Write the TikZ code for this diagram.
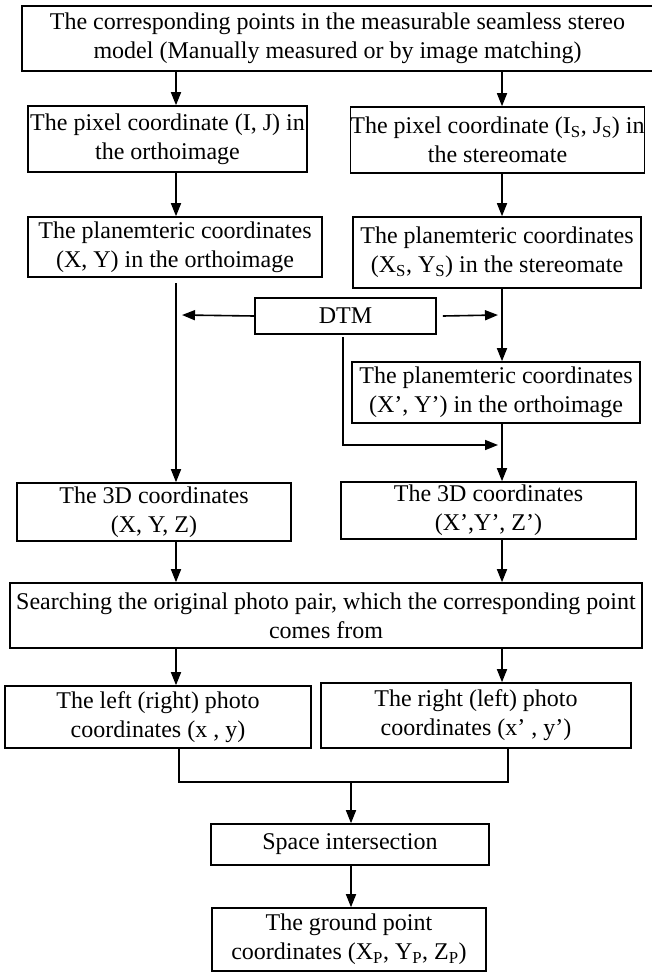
\documentclass[tikz,border=0pt]{standalone}
\usepackage{fontspec}
\setmainfont{Liberation Serif}
\usetikzlibrary{arrows.meta}
\begin{document}
\begin{tikzpicture}[x=1pt,y=-1pt,
  box/.style={draw, line width=1.6pt, align=center, inner sep=0pt,
    font=\fontsize{24}{29}\selectfont},
  conn/.style={line width=1.6pt},
  arr/.style={conn, -{Triangle[length=13pt,width=10pt]}}]
\useasboundingbox (0,0) rectangle (651,972);

\node[box, minimum width=631pt, minimum height=65pt] (top) at (337.5,38.5)
  {The corresponding points in the measurable seamless stereo\\model (Manually measured or by image matching)};
\node[box, minimum width=279pt, minimum height=66pt] (l1) at (167.5,139)
  {The pixel coordinate (I, J) in\\the orthoimage};
\node[box, minimum width=293pt, minimum height=66pt] (r1) at (497.5,140)
  {The pixel coordinate (I\textsubscript{S}, J\textsubscript{S}) in\\the stereomate};
\node[box, minimum width=294pt, minimum height=60pt] (l2) at (175,247)
  {The planemteric coordinates\\(X, Y) in the orthoimage};
\node[box, minimum width=288pt, minimum height=71pt] (r2) at (497,252.5)
  {The planemteric coordinates\\(X\textsubscript{S}, Y\textsubscript{S}) in the stereomate};
\node[box, minimum width=181pt, minimum height=36pt] (dtm) at (345.5,316) {DTM};
\node[box, minimum width=288pt, minimum height=61pt] (r3) at (496,392.5)
  {The planemteric coordinates\\(X’, Y’) in the orthoimage};
\node[box, minimum width=274pt, minimum height=58pt] (l3) at (154,512)
  {The 3D coordinates\\(X, Y, Z)};
\node[box, minimum width=295pt, minimum height=57pt] (r3d) at (488.5,510.5)
  {The 3D coordinates\\(X’,Y’, Z’)};
\node[box, minimum width=632pt, minimum height=65pt] (search) at (326,615.5)
  {Searching the original photo pair, which the corresponding point\\comes from};
\node[box, minimum width=306pt, minimum height=62pt] (l4) at (158,717)
  {The left (right) photo\\coordinates (x , y)};
\node[box, minimum width=310pt, minimum height=65pt] (r4) at (476,715.5)
  {The right (left) photo\\coordinates (x’ , y’)};
\node[box, minimum width=278pt, minimum height=41pt] (si) at (350,844.5)
  {Space intersection};
\node[box, minimum width=274pt, minimum height=63pt] (final) at (349,939.5)
  {The ground point\\coordinates (X\textsubscript{P}, Y\textsubscript{P}, Z\textsubscript{P})};

\coordinate (xl) at (176,0);
\coordinate (xr) at (502,0);
\coordinate (lstart) at (176,283);
\coordinate (dl) at (182,315);
\coordinate (dr) at (498,315);
\coordinate (dd) at (343,337);
\coordinate (dr2) at (498,445);
\coordinate (jl) at (179,782);
\coordinate (jr) at (508,782);
\coordinate (jm) at (351,782);

\draw[arr] (top.south -| xl) -- (l1.north -| xl);
\draw[arr] (top.south -| xr) -- (r1.north -| xr);
\draw[arr] (l1.south -| xl) -- (l2.north -| xl);
\draw[arr] (r1.south -| xr) -- (r2.north -| xr);
\draw[arr] (lstart) -- (l3.north -| xl);
\draw[arr] (r2.south -| xr) -- (r3.north -| xr);
\draw[arr] (dtm.west) -- (dl);
\draw[arr] ([xshift=6pt]dtm.east) -- (dr);
\draw[arr] (dd) |- (dr2);
\draw[arr] (r3.south -| xr) -- (r3d.north -| xr);
\draw[arr] (l3.south -| xl) -- (search.north -| xl);
\draw[arr] (r3d.south -| xr) -- (search.north -| xr);
\draw[arr] (search.south -| xl) -- (l4.north -| xl);
\draw[arr] (search.south -| xr) -- (r4.north -| xr);
\draw[conn] (l4.south -| jl) -- (jl) -- (jr) -- (r4.south -| jr);
\draw[arr] (jm) -- (si.north -| jm);
\draw[arr] (si.south -| jm) -- (final.north -| jm);
\end{tikzpicture}
\end{document}
